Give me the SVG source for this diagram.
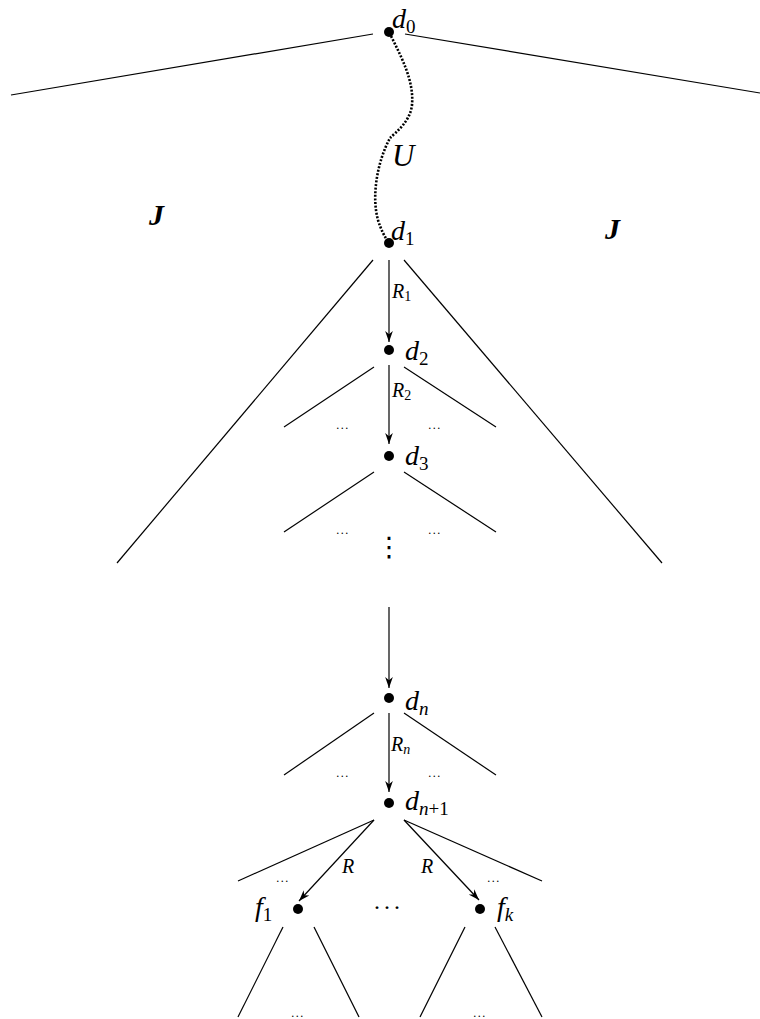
<svg xmlns="http://www.w3.org/2000/svg" width="760" height="1019" viewBox="0 0 760 1019">
<style>
.ln{stroke:#000;stroke-width:1.2;fill:none}
.ar{stroke:#000;stroke-width:1.2;fill:none;marker-end:url(#ah)}
.dot{fill:#000}
.lb{font-family:"Liberation Serif","DejaVu Serif",serif;font-style:italic;font-size:28px;fill:#000}
.sub{font-size:19px;font-style:normal}
.isub{font-size:19px}
.rl{font-family:"Liberation Serif","DejaVu Serif",serif;font-style:italic;font-size:20px;fill:#000}
.rsub{font-size:14px;font-style:normal}
.rsubi{font-size:14px}
.el{font-family:"Liberation Serif","DejaVu Serif",serif;font-size:12px;fill:#000;letter-spacing:1.5px}
.jj{font-family:"Liberation Serif","DejaVu Serif",serif;font-style:italic;font-weight:bold;font-size:30px;fill:#000}
</style>
<defs>
<marker id="ah" viewBox="0 0 10 10" refX="10" refY="5" markerWidth="11" markerHeight="11" markerUnits="userSpaceOnUse" orient="auto">
<path d="M0,1.5 L10,5 L0,8.5 L3,5 Z" fill="#000"/>
</marker>
</defs>
<rect width="760" height="1019" fill="#fff"/>
<g id="connectors">
<line class="ln" x1="373" y1="34" x2="11" y2="95"/>
<line class="ln" x1="405" y1="34" x2="760" y2="93"/>
<path d="M391,36 C403,60 414,82 412,105 C410,122 396,132 390,138 C378,160 371,195 378,220 C381,230 385,237 388,242" stroke="#000" stroke-width="2.6" stroke-dasharray="2 1.6" fill="none"/>
<line class="ln" x1="373" y1="260" x2="117" y2="563"/>
<line class="ln" x1="404" y1="260" x2="662" y2="563"/>
<line class="ar" x1="389" y1="260" x2="389" y2="342"/>
<line class="ln" x1="374" y1="367" x2="284" y2="427"/>
<line class="ln" x1="404" y1="367" x2="496" y2="427"/>
<line class="ar" x1="389" y1="365" x2="389" y2="444"/>
<line class="ln" x1="374" y1="472" x2="284" y2="532"/>
<line class="ln" x1="404" y1="472" x2="496" y2="532"/>
<line class="ar" x1="389" y1="607" x2="389" y2="688"/>
<line class="ln" x1="374" y1="713" x2="284" y2="775"/>
<line class="ln" x1="404" y1="713" x2="496" y2="775"/>
<line class="ar" x1="389" y1="713" x2="389" y2="792"/>
<line class="ln" x1="374" y1="820" x2="238" y2="881"/>
<line class="ln" x1="404" y1="820" x2="542" y2="881"/>
<line class="ar" x1="374" y1="820" x2="299" y2="901"/>
<line class="ar" x1="404" y1="820" x2="479" y2="900"/>
<line class="ln" x1="283" y1="927" x2="238" y2="1017"/>
<line class="ln" x1="314" y1="927" x2="359" y2="1017"/>
<line class="ln" x1="465" y1="927" x2="420" y2="1017"/>
<line class="ln" x1="495" y1="927" x2="542" y2="1017"/>
</g>
<g id="d0"><circle class="dot" cx="389" cy="32" r="5"/><text class="lb" x="392" y="28">d<tspan class="sub" dy="5">0</tspan></text></g>
<g id="U"><text class="lb" x="392" y="166" style="font-size:31px">U</text></g>
<g id="J-left"><text class="jj" x="149" y="225">J</text></g>
<g id="J-right"><text class="jj" x="605" y="239">J</text></g>
<g id="d1"><circle class="dot" cx="389" cy="243" r="5"/><text class="lb" x="391" y="240">d<tspan class="sub" dy="5">1</tspan></text></g>
<g id="R1"><text class="rl" x="392" y="298">R<tspan class="rsub" dy="3">1</tspan></text></g>
<g id="d2"><circle class="dot" cx="389" cy="350" r="5"/><text class="lb" x="405" y="360">d<tspan class="sub" dy="5">2</tspan></text></g>
<g id="R2"><text class="rl" x="392" y="397">R<tspan class="rsub" dy="3">2</tspan></text></g>
<g id="dots2"><text class="el" x="343" y="429" text-anchor="middle">...</text><text class="el" x="435" y="429" text-anchor="middle">...</text></g>
<g id="d3"><circle class="dot" cx="389" cy="456" r="5"/><text class="lb" x="405" y="465">d<tspan class="sub" dy="5">3</tspan></text></g>
<g id="dots3"><text class="el" x="343" y="534" text-anchor="middle">...</text><text class="el" x="435" y="534" text-anchor="middle">...</text></g>
<g id="vdots"><text x="389" y="556" text-anchor="middle" style="font-family:'DejaVu Sans',sans-serif;font-size:27px">⋮</text></g>
<g id="dn"><circle class="dot" cx="389" cy="698" r="5"/><text class="lb" x="405" y="710">d<tspan class="isub" dy="5">n</tspan></text></g>
<g id="Rn"><text class="rl" x="391" y="751">R<tspan class="rsubi" dy="3">n</tspan></text></g>
<g id="dotsn"><text class="el" x="343" y="777" text-anchor="middle">...</text><text class="el" x="435" y="777" text-anchor="middle">...</text></g>
<g id="dn1"><circle class="dot" cx="389" cy="803" r="5"/><text class="lb" x="405" y="810">d<tspan class="isub" dy="5">n</tspan><tspan class="sub">+1</tspan></text></g>
<g id="Rleft"><text class="rl" x="342" y="873">R</text></g>
<g id="Rright"><text class="rl" x="421" y="873">R</text></g>
<g id="dotsf"><text class="el" x="283" y="882" text-anchor="middle">...</text><text class="el" x="494" y="882" text-anchor="middle">...</text></g>
<g id="f1"><circle class="dot" cx="298" cy="909" r="5"/><text class="lb" x="255" y="916">f<tspan class="sub" dy="5">1</tspan></text></g>
<g id="cdots"><text x="388" y="915" text-anchor="middle" style="font-family:'Liberation Serif',serif;font-size:24px" letter-spacing="2">···</text></g>
<g id="fk"><circle class="dot" cx="480" cy="909" r="5"/><text class="lb" x="497" y="916">f<tspan class="isub" dy="5">k</tspan></text></g>
<g id="dotsb"><text class="el" x="298" y="1017" text-anchor="middle">...</text><text class="el" x="480" y="1017" text-anchor="middle">...</text></g>
</svg>
